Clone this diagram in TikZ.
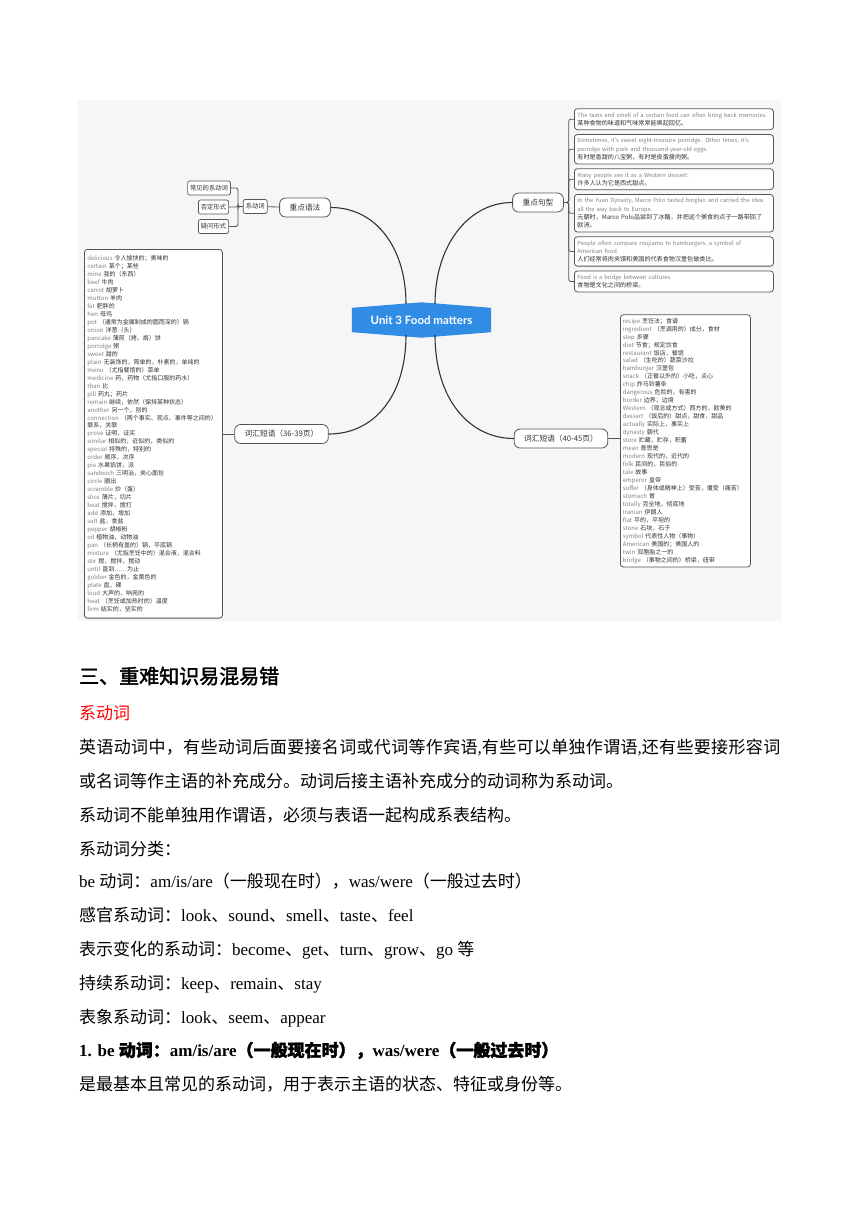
\documentclass[tikz,border=0pt]{standalone}
\usepackage{fontspec}
\setmainfont{Liberation Serif}
\newfontfamily\zhfont{Noto Sans CJK SC}
\newfontfamily\zhbold[FakeBold=2]{Noto Sans CJK SC}
\newfontfamily\zhwide[LetterSpace=2]{Noto Sans CJK SC}
\newfontfamily\mapfont{Noto Sans CJK SC}
\newfontfamily\unitfont{Lato}
\usetikzlibrary{positioning,backgrounds,calc}
\definecolor{mapbg}{RGB}{246,246,246}
\definecolor{unitblue}{RGB}{48,140,228}
\definecolor{linedark}{RGB}{51,51,51}
\definecolor{boxline}{RGB}{85,85,85}
\definecolor{wordgray}{RGB}{128,128,128}
\definecolor{textdark}{RGB}{50,50,50}
\newcommand\zh[1]{{\zhfont #1}}
\newcommand\zhb[1]{{\zhbold #1}}
\newcommand\vocab[2]{{\color{wordgray}#1} #2}
\newcommand\engl{\fontsize{5.7}{8.3}\selectfont\color{wordgray}}

\begin{document}
\begin{tikzpicture}[x=1pt,y=-1pt,
  branch/.style={draw=linedark,line width=1.1pt},
  topic/.style={rectangle,draw=boxline,line width=0.8pt,rounded corners=6pt,fill=white,
                font=\mapfont\fontsize{7.7}{9}\selectfont,text=textdark,
                minimum height=19pt,inner xsep=10pt},
  leaf/.style={rectangle,draw=boxline,line width=0.7pt,rounded corners=2pt,fill=white,
               font=\mapfont\fontsize{6.3}{7}\selectfont,text=textdark,
               minimum height=14pt,inner xsep=2.5pt},
  sentbox/.style={rectangle,draw=boxline,line width=0.8pt,rounded corners=3pt,fill=white,
                  font=\mapfont\fontsize{6.1}{8.3}\selectfont,text=textdark,
                  text width=193pt,align=left,inner xsep=3pt,inner ysep=3.8pt},
  wordbox/.style={rectangle,draw=boxline,line width=0.8pt,rounded corners=3pt,fill=white,
                  font=\mapfont\fontsize{6}{7.97}\selectfont,text=textdark,align=left},
  link/.style={draw=boxline,line width=0.8pt,rounded corners=2pt},
  body/.style={anchor=base west,inner sep=0pt,font=\fontsize{17}{20}\selectfont,text=black}
]
\useasboundingbox (0,0) rectangle (860,1216);

\node[minimum width=139pt,minimum height=24pt,text=white,
      font=\unitfont\bfseries\fontsize{11.5}{13}\selectfont] (unit) at (421.5,320) {Unit 3 Food matters};
\coordinate (ul) at (406,304);
\coordinate (ur) at (435,304);
\coordinate (dl) at (406,335);
\coordinate (dr) at (435,335);

\node[topic] (grammar) at (305,207.5) {重点语法};
\node[topic] (pattern) at (538,202.5) {重点句型};
\node[topic] (wordsA)  at (281.5,434) {词汇短语（36-39页）};
\node[topic] (wordsB)  at (561,438.5) {词汇短语（40-45页）};

\draw[branch] (grammar.east) .. controls (376,207.5) and (406,248) .. (ul);
\draw[branch] (pattern.west) .. controls (468,202.5) and (435,246) .. (ur);
\draw[branch] (dl) .. controls (406,396) and (374,434) .. (wordsA.east);
\draw[branch] (dr) .. controls (435,400) and (470,438.5) .. (wordsB.west);

\node[leaf] (linkverb) at (255.2,206.5) {系动词};
\node[leaf] (common)   at (209,188)     {常见的系动词};
\node[leaf] (negative) at (213.5,207)   {否定形式};
\node[leaf] (question) at (213.5,226.5) {疑问形式};
\draw[link] (linkverb) -- (grammar);
\foreach \n in {common,negative,question} { \draw[link] (linkverb.west) -- ++(-5pt,0) |- (\n.east); }

\node[sentbox,anchor=north west] (s1) at (574,108.3)
  {{\engl The taste and smell of a certain food can often bring back memories.}\\某种食物的味道和气味常常能唤起回忆。};
\node[sentbox,below=4pt of s1] (s2)
  {{\engl Sometimes, it's sweet eight-treasure porridge. Other times, it's}\\{\engl porridge with pork and thousand-year-old eggs.}\\有时是香甜的八宝粥，有时是皮蛋瘦肉粥。};
\node[sentbox,below=4pt of s2] (s3)
  {{\engl Many people see it as a Western dessert.}\\许多人认为它是西式甜点。};
\node[sentbox,below=4pt of s3] (s4)
  {{\engl In the Yuan Dynasty, Marco Polo tasted binglao and carried the idea}\\{\engl all the way back to Europe.}\\元朝时，Marco Polo品尝到了冰酪，并把这个美食的点子一路带回了\\欧洲。};
\node[sentbox,below=4pt of s4] (s5)
  {{\engl People often compare roujiamo to hamburgers, a symbol of}\\{\engl American food.}\\人们经常将肉夹馍和美国的代表食物汉堡包做类比。};
\node[sentbox,below=4pt of s5] (s6)
  {{\engl Food is a bridge between cultures.}\\食物是文化之间的桥梁。};
\foreach \n in {s1,s2,s3,s4,s5,s6} { \draw[link] (pattern.east) -- ++(5pt,0) |- (\n.west); }

\node[wordbox,text width=132pt,inner xsep=3pt,minimum height=368.7pt,anchor=north west] (listA) at (84,249) {%
\vocab{delicious}{令人愉快的；美味的}\\
\vocab{certain}{某个；某些}\\
\vocab{mine}{我的（东西）}\\
\vocab{beef}{牛肉}\\
\vocab{carrot}{胡萝卜}\\
\vocab{mutton}{羊肉}\\
\vocab{fat}{肥胖的}\\
\vocab{hen}{母鸡}\\
\vocab{pot}{（通常为金属制成的圆而深的）锅}\\
\vocab{onion}{洋葱（头）}\\
\vocab{pancake}{薄煎（烤、烙）饼}\\
\vocab{porridge}{粥}\\
\vocab{sweet}{甜的}\\
\vocab{plain}{无装饰的，简单的，朴素的，单纯的}\\
\vocab{menu}{（尤指餐馆的）菜单}\\
\vocab{medicine}{药，药物（尤指口服的药水）}\\
\vocab{than}{比}\\
\vocab{pill}{药丸；药片}\\
\vocab{remain}{继续，依然（保持某种状态）}\\
\vocab{another}{另一个，别的}\\
\vocab{connection}{（两个事实、观点、事件等之间的）}\\
联系，关联\\
\vocab{prove}{证明，证实}\\
\vocab{similar}{相似的，近似的，类似的}\\
\vocab{special}{特殊的，特别的}\\
\vocab{order}{顺序，次序}\\
\vocab{pie}{水果馅饼，派}\\
\vocab{sandwich}{三明治，夹心面包}\\
\vocab{circle}{圈出}\\
\vocab{scramble}{炒（蛋）}\\
\vocab{slice}{薄片，切片}\\
\vocab{beat}{搅拌，搅打}\\
\vocab{add}{添加，增加}\\
\vocab{salt}{盐，食盐}\\
\vocab{pepper}{胡椒粉}\\
\vocab{oil}{植物油，动物油}\\
\vocab{pan}{（长柄有盖的）锅，平底锅}\\
\vocab{mixture}{（尤指烹饪中的）混合液，混合料}\\
\vocab{stir}{搅，搅拌，搅动}\\
\vocab{until}{直到……为止}\\
\vocab{golden}{金色的，金黄色的}\\
\vocab{plate}{盘，碟}\\
\vocab{loud}{大声的，响亮的}\\
\vocab{heat}{（烹饪或加热时的）温度}\\
\vocab{firm}{结实的，坚实的}};
\draw[link] (wordsA.west) -- (wordsA.west -| listA.east);

\node[wordbox,text width=125pt,inner xsep=2.5pt,minimum height=250.7pt,anchor=north west] (listB) at (620,314.3) {%
\vocab{recipe}{烹饪法；食谱}\\
\vocab{ingredient}{（烹调用的）成分，食材}\\
\vocab{step}{步骤}\\
\vocab{diet}{节食；规定饮食}\\
\vocab{restaurant}{饭店，餐馆}\\
\vocab{salad}{（生吃的）蔬菜沙拉}\\
\vocab{hamburger}{汉堡包}\\
\vocab{snack}{（正餐以外的）小吃，点心}\\
\vocab{chip}{炸马铃薯条}\\
\vocab{dangerous}{危险的，有害的}\\
\vocab{border}{边界；边境}\\
\vocab{Western}{（观念或方式）西方的，欧美的}\\
\vocab{dessert}{（饭后的）甜点，甜食，甜品}\\
\vocab{actually}{实际上，事实上}\\
\vocab{dynasty}{朝代}\\
\vocab{store}{贮藏，贮存，积蓄}\\
\vocab{mean}{意思是}\\
\vocab{modern}{现代的，近代的}\\
\vocab{folk}{民间的，民俗的}\\
\vocab{tale}{故事}\\
\vocab{emperor}{皇帝}\\
\vocab{suffer}{（身体或精神上）受苦，遭受（痛苦）}\\
\vocab{stomach}{胃}\\
\vocab{totally}{完全地，彻底地}\\
\vocab{Iranian}{伊朗人}\\
\vocab{flat}{平的，平坦的}\\
\vocab{stone}{石块，石子}\\
\vocab{symbol}{代表性人物（事物）}\\
\vocab{American}{美国的；美国人的}\\
\vocab{twin}{双胞胎之一的}\\
\vocab{bridge}{（事物之间的）桥梁，纽带}};
\draw[link] (wordsB.east) -- (wordsB.east -| listB.west);

\begin{scope}[on background layer]
  \fill[mapbg] (78,100) rectangle (781,621);
  \fill[unitblue] (unit.north west) -- ($(unit.north)+(0,5.5pt)$) -- (unit.north east)
    -- (unit.south east) -- ($(unit.south)+(0,-5.5pt)$) -- (unit.south west) -- cycle;
\end{scope}

\node[body,font=\zhbold\fontsize{20}{22}\selectfont] (title) at (79,683.6) {三、重难知识易混易错};
\node[body,text=red] (head) at (79,719.5) {\zh{系动词}};
\node[body] (p1) at (79,753.5) {{\zhwide 英语动词中，有些动词后面要接名词或代词等作宾语},{\zhwide 有些可以单独作谓语},{\zhwide 还有些要接形容词}};
\node[body] (p2) at (79,787.5) {\zh{或名词等作主语的补充成分。动词后接主语补充成分的动词称为系动词。}};
\node[body] (p3) at (79,821.5) {\zh{系动词不能单独用作谓语，必须与表语一起构成系表结构。}};
\node[body] (p4) at (79,855.5) {\zh{系动词分类：}};
\node[body] (p5) at (79,887.5) {be \zh{动词：}am/is/are\zh{（一般现在时），}was/were\zh{（一般过去时）}};
\node[body] (p6) at (79,921.5) {\zh{感官系动词：}look\zh{、}sound\zh{、}smell\zh{、}taste\zh{、}feel};
\node[body] (p7) at (79,955.5) {\zh{表示变化的系动词：}become\zh{、}get\zh{、}turn\zh{、}grow\zh{、}go \zh{等}};
\node[body] (p8) at (79,989.5) {\zh{持续系动词：}keep\zh{、}remain\zh{、}stay};
\node[body] (p9) at (79,1023.5) {\zh{表象系动词：}look\zh{、}seem\zh{、}appear};
\node[body] (p10) at (79,1056.5) {\bfseries 1. be \zhb{动词：}am/is/are\zhb{（一般现在时），}was/were\zhb{（一般过去时）}};
\node[body] (p11) at (79,1090.5) {\zh{是最基本且常见的系动词，用于表示主语的状态、特征或身份等。}};

\end{tikzpicture}
\end{document}
